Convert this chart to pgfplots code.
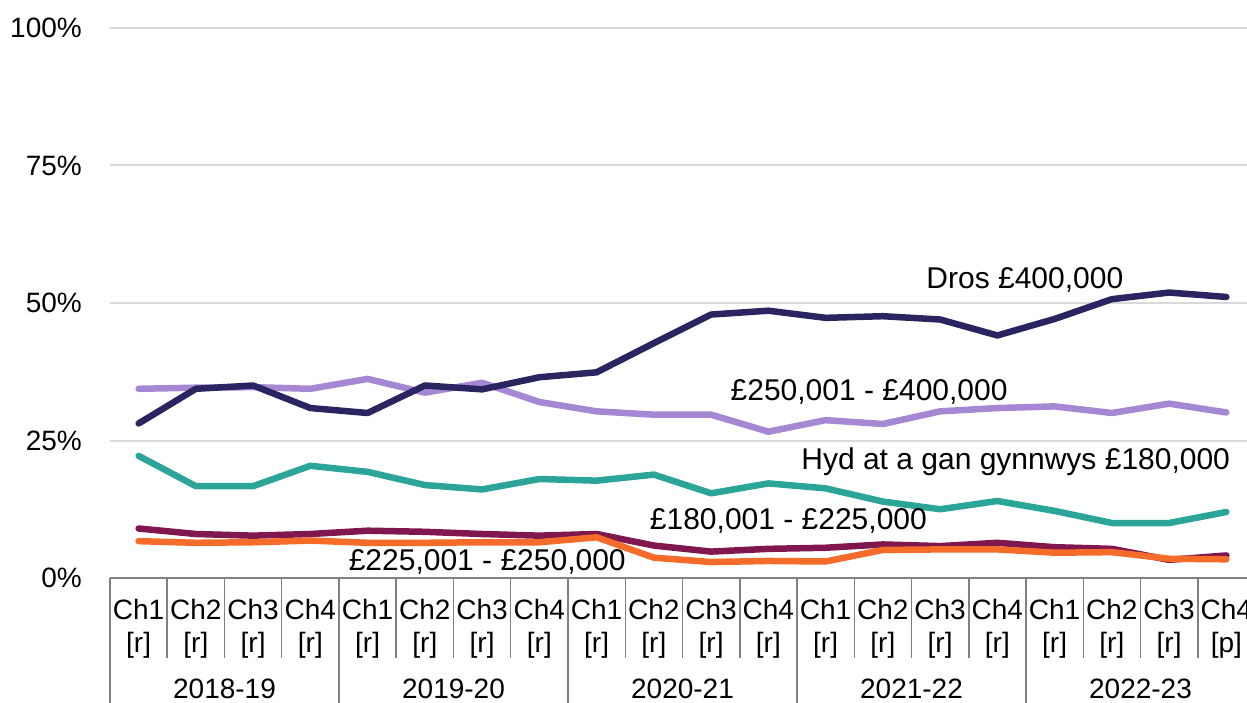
\documentclass[border=0pt]{standalone}
\usepackage{fontspec}
\setmainfont{Liberation Sans}
\usepackage{pgfplots}
\pgfplotsset{compat=1.18}
\definecolor{navy}{HTML}{2A2460}
\definecolor{lav}{HTML}{A587D3}
\definecolor{teal2}{HTML}{2AA598}
\definecolor{maroon2}{HTML}{80174F}
\definecolor{orange2}{HTML}{F56B2A}
\definecolor{gridgray}{HTML}{D9D9D9}
\definecolor{axgray}{HTML}{808080}
\newcommand{\lf}{\fontsize{30}{35}\selectfont}
\newcommand{\tf}{\fontsize{28}{33}\selectfont}
\begin{document}
\begin{tikzpicture}
\begin{axis}[
  at={(0,0)}, anchor=south west,
  width=1145pt, height=550pt, scale only axis,
  xmin=-0.5, xmax=19.5, ymin=0, ymax=100,
  axis line style={draw=none},
  xtick=\empty,
  ytick={0,25,50,75,100},
  yticklabel={\pgfmathprintnumber{\tick}\%},
  /pgf/number format/assume math mode=true,
  ymajorgrids, grid style={color=gridgray, line width=2pt},
  major tick length=0pt,
  yticklabel style={anchor=east, inner sep=0pt, xshift=-28pt, font=\tf},
  clip=false,
  every axis plot/.append style={line width=6.5pt, line cap=round, line join=round},
]
\addplot[teal2] coordinates {(0,22.2)(1,16.7)(2,16.7)(3,20.4)(4,19.3)(5,16.9)(6,16.1)(7,18.0)(8,17.7)(9,18.8)(10,15.4)(11,17.2)(12,16.3)(13,13.9)(14,12.5)(15,14.0)(16,12.2)(17,10.0)(18,10.0)(19,12.0)};
\addplot[maroon2] coordinates {(0,9.0)(1,8.0)(2,7.7)(3,8.0)(4,8.6)(5,8.4)(6,8.0)(7,7.7)(8,8.0)(9,5.9)(10,4.8)(11,5.3)(12,5.5)(13,6.1)(14,5.8)(15,6.4)(16,5.6)(17,5.3)(18,3.3)(19,4.1)};
\addplot[orange2] coordinates {(0,6.7)(1,6.4)(2,6.5)(3,6.8)(4,6.4)(5,6.4)(6,6.5)(7,6.5)(8,7.4)(9,3.7)(10,2.9)(11,3.1)(12,3.0)(13,5.1)(14,5.2)(15,5.2)(16,4.6)(17,4.7)(18,3.5)(19,3.4)};
\addplot[lav] coordinates {(0,34.4)(1,34.6)(2,34.7)(3,34.4)(4,36.2)(5,33.7)(6,35.5)(7,32.0)(8,30.3)(9,29.7)(10,29.7)(11,26.6)(12,28.7)(13,28.0)(14,30.3)(15,30.9)(16,31.2)(17,30.0)(18,31.7)(19,30.1)};
\addplot[navy] coordinates {(0,28.1)(1,34.4)(2,35.0)(3,30.9)(4,30.0)(5,35.0)(6,34.3)(7,36.5)(8,37.4)(9,42.7)(10,47.9)(11,48.6)(12,47.3)(13,47.6)(14,47.0)(15,44.1)(16,47.1)(17,50.7)(18,51.9)(19,51.1)};
% series labels
\node[font=\lf] at (axis cs:15.48,54.2) {Dros £400,000};
\node[font=\lf] at (axis cs:12.76,33.8) {£250,001 - £400,000};
\node[font=\lf] at (axis cs:15.32,21.1) {Hyd at a gan gynnwys £180,000};
\node[font=\lf] at (axis cs:11.35,10.4) {£180,001 - £225,000};
\node[font=\lf] at (axis cs:6.09,2.9) {£225,001 - £250,000};
% x axis line and separators
\draw[axgray, line width=2pt] (axis cs:-0.5,0) -- (axis cs:19.5,0);
\pgfplotsinvokeforeach{-0.5,0.5,1.5,2.5,4.5,5.5,6.5,8.5,9.5,10.5,12.5,13.5,14.5,16.5,17.5,18.5}{
  \draw[axgray, line width=1.5pt] (axis cs:#1,0) -- ++(0pt,-80pt);
}
\pgfplotsinvokeforeach{-0.5,3.5,7.5,11.5,15.5,19.5}{
  \draw[axgray, line width=1.5pt] (axis cs:#1,0) -- ++(0pt,-130pt);
}
% quarter labels
\pgfplotsinvokeforeach{0,4,8,12,16}{
  \node[font=\tf, anchor=base, inner sep=0pt] at ([yshift=-41pt]axis cs:#1,0) {Ch1};
}
\pgfplotsinvokeforeach{1,5,9,13,17}{
  \node[font=\tf, anchor=base, inner sep=0pt] at ([yshift=-41pt]axis cs:#1,0) {Ch2};
}
\pgfplotsinvokeforeach{2,6,10,14,18}{
  \node[font=\tf, anchor=base, inner sep=0pt] at ([yshift=-41pt]axis cs:#1,0) {Ch3};
}
\pgfplotsinvokeforeach{3,7,11,15,19}{
  \node[font=\tf, anchor=base, inner sep=0pt] at ([yshift=-41pt]axis cs:#1,0) {Ch4};
}
\pgfplotsinvokeforeach{0,1,2,3,4,5,6,7,8,9,10,11,12,13,14,15,16,17,18}{
  \node[font=\tf, anchor=base, inner sep=0pt] at ([yshift=-74pt]axis cs:#1,0) {[r]};
}
\node[font=\tf, anchor=base, inner sep=0pt] at ([yshift=-74pt]axis cs:19,0) {[p]};
% years
\node[font=\tf, anchor=base, inner sep=0pt] at ([yshift=-120pt]axis cs:1.5,0) {2018-19};
\node[font=\tf, anchor=base, inner sep=0pt] at ([yshift=-120pt]axis cs:5.5,0) {2019-20};
\node[font=\tf, anchor=base, inner sep=0pt] at ([yshift=-120pt]axis cs:9.5,0) {2020-21};
\node[font=\tf, anchor=base, inner sep=0pt] at ([yshift=-120pt]axis cs:13.5,0) {2021-22};
\node[font=\tf, anchor=base, inner sep=0pt] at ([yshift=-120pt]axis cs:17.5,0) {2022-23};
\end{axis}
\pgfresetboundingbox
\useasboundingbox (-110pt,-124pt) rectangle (1137pt,578pt);
\end{tikzpicture}
\end{document}
